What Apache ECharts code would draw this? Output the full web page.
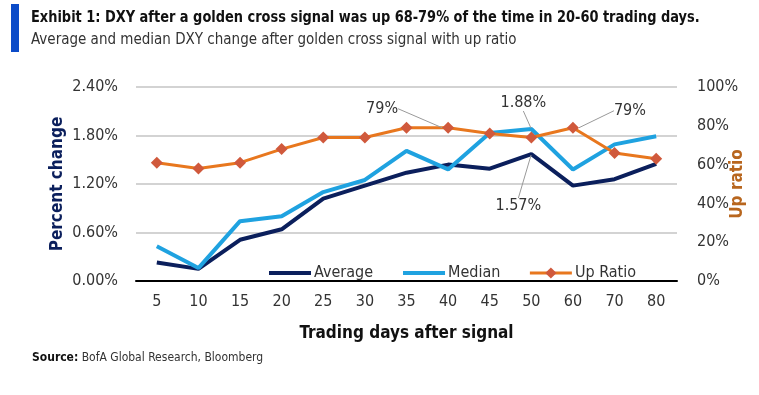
<!DOCTYPE html>
<html><head><meta charset="utf-8">
<script src="https://cdn.jsdelivr.net/npm/echarts@6/dist/echarts.min.js"></script>
<style>html,body{margin:0;padding:0;background:#fff}#c{width:759px;height:395px}</style>
</head><body><div id="c"></div>
<script>
const categories = ['5','10','15','20','25','30','35','40','45','50','60','70','80'];
const average = [0.23,0.15,0.51,0.64,1.02,1.18,1.34,1.44,1.39,1.57,1.18,1.26,1.45];
const median  = [0.43,0.16,0.74,0.80,1.10,1.25,1.61,1.38,1.83,1.88,1.38,1.69,1.79];
const upRatio = [61,58,61,68,74,74,79,79,76,74,79,66,63];
// annotations: series, category index, text
const notes = [
  {series:'Up Ratio', idx:7,  text:'79%'},
  {series:'Median',   idx:9,  text:'1.88%'},
  {series:'Up Ratio', idx:10, text:'79%'},
  {series:'Average',  idx:9,  text:'1.57%'}
];
// label offsets from the marked point (styling)
const noteOffsets = {
  'Up Ratio-7':[-66,-19], 'Median-9':[-8,-26], 'Up Ratio-10':[57,-17], 'Average-9':[-13,52]
};

const FF = "'DejaVu Sans Condensed','Liberation Sans Narrow',sans-serif";
const txt = '#333';

function withNotes(name, values, markSym){
  return values.map((v,i)=>{
    const n = notes.find(o=>o.series===name && o.idx===i);
    if(!n) return v;
    const item = {value:v, label:{show:true, formatter:n.text}, labelLine:{show:true}};
    if(!markSym){ item.symbol='circle'; item.symbolSize=2; }
    return item;
  });
}
function layoutFor(name){
  return function(p){
    const off = noteOffsets[name+'-'+p.dataIndex];
    if(!off) return {};
    const cx = p.rect.x + p.rect.width/2, cy = p.rect.y + p.rect.height/2;
    return {x: cx+off[0], y: cy+off[1], align:'center', verticalAlign:'middle'};
  };
}
const labelCommon = {color:'#333', fontSize:16, fontFamily:FF};
const lineCommon = {lineStyle:{color:'#999', width:1}};

const chart = echarts.init(document.getElementById('c'), null, {renderer:'canvas'});
chart.setOption({
  animation:false,
  textStyle:{fontFamily:FF},
  grid:{left:136, right:82, top:87, bottom:114},
  graphic:[
    {type:'rect', left:11, top:4, shape:{width:8, height:48}, style:{fill:'#0B4BC8'}},
    {type:'text', x:31, y:10, scaleX:0.9, style:{text:'Exhibit 1: DXY after a golden cross signal was up 68-79% of the time in 20-60 trading days.', font:"bold 16px "+FF, fill:'#111'}},
    {type:'text', left:31, top:33, style:{text:'Average and median DXY change after golden cross signal with up ratio', font:"15px "+FF, fill:'#333'}},
    {type:'text', left:32, top:352, style:{text:'{b|Source:} BofA Global Research, Bloomberg', font:"12px "+FF, fill:'#333',
      rich:{b:{fontWeight:'bold', fontSize:12, fontFamily:FF, fill:'#111'}}}}
  ],
  legend:{
    data:[
      {name:'Average', itemStyle:{opacity:0}, lineStyle:{width:4}},
      {name:'Median', itemStyle:{opacity:0}, lineStyle:{width:4}},
      {name:'Up Ratio', lineStyle:{width:3}}
    ],
    left:262, top:260, itemWidth:42, itemHeight:14, itemGap:28,
    textStyle:{color:txt, fontSize:16, fontFamily:FF, padding:[0,0,0,-2]}
  },
  xAxis:{
    type:'category', data:categories, boundaryGap:true,
    axisLine:{lineStyle:{color:'#000', width:2}}, axisTick:{show:false},
    axisLabel:{color:txt, fontSize:16, margin:13, fontFamily:FF},
    name:'Trading days after signal', nameLocation:'middle', nameGap:44, nameMoveOverlap:false,
    nameTextStyle:{fontWeight:'bold', fontSize:17, color:'#111', fontFamily:FF}
  },
  yAxis:[
    {type:'value', min:0, max:2.4, interval:0.6,
     axisLine:{show:false}, axisTick:{show:false},
     axisLabel:{formatter:v=>v.toFixed(2)+'%', color:txt, fontSize:16, margin:18, fontFamily:FF},
     splitLine:{lineStyle:{color:'#C4C4C4', width:1.5}},
     name:'Percent change', nameLocation:'middle', nameGap:70, nameRotate:90, nameMoveOverlap:false,
     nameTextStyle:{fontWeight:'bold', fontSize:17, color:'#0B1F5C', fontFamily:FF}},
    {type:'value', min:0, max:100, interval:20, position:'right',
     axisLine:{show:false}, axisTick:{show:false}, splitLine:{show:false},
     axisLabel:{formatter:v=>v+'%', color:txt, fontSize:16, margin:20, fontFamily:FF},
     name:'Up ratio', nameLocation:'middle', nameGap:52, nameRotate:90, nameMoveOverlap:false,
     nameTextStyle:{fontWeight:'bold', fontSize:17, color:'#B8661E', fontFamily:FF}}
  ],
  series:[
    {name:'Average', type:'line', data:withNotes('Average', average, false), yAxisIndex:0,
     symbol:'none', showSymbol:true, itemStyle:{color:'#0B1F5C'}, lineStyle:{color:'#0B1F5C', width:4},
     label:labelCommon, labelLine:lineCommon, labelLayout:layoutFor('Average'), z:3},
    {name:'Median', type:'line', data:withNotes('Median', median, false), yAxisIndex:0,
     symbol:'none', showSymbol:true, itemStyle:{color:'#1FA2E0'}, lineStyle:{color:'#1FA2E0', width:4},
     label:labelCommon, labelLine:lineCommon, labelLayout:layoutFor('Median'), z:4},
    {name:'Up Ratio', type:'line', data:withNotes('Up Ratio', upRatio, true), yAxisIndex:1,
     symbol:'diamond', symbolSize:12, showSymbol:true,
     itemStyle:{color:'#D0593C'}, lineStyle:{color:'#E8771E', width:3},
     label:labelCommon, labelLine:lineCommon, labelLayout:layoutFor('Up Ratio'), z:5}
  ]
});
</script></body></html>
